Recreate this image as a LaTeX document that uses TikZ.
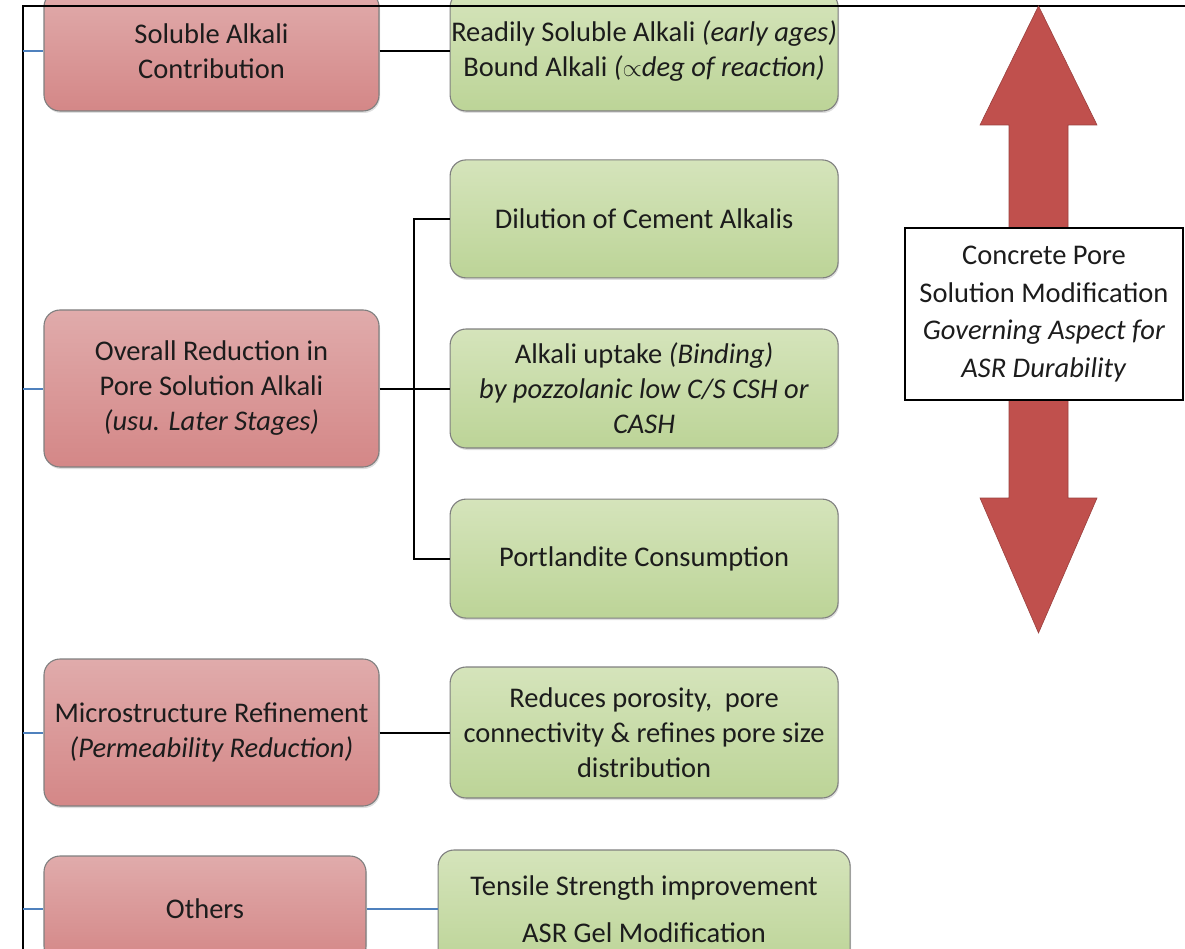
\documentclass[tikz,border=0pt]{standalone}
\usepackage{fontspec}
\setmainfont{Carlito}
\usetikzlibrary{positioning,shadows}

\definecolor{redtop}{HTML}{E0ABAB}
\definecolor{redbot}{HTML}{D48787}
\definecolor{greentop}{HTML}{D5E4BB}
\definecolor{greenbot}{HTML}{BCD497}
\definecolor{boxline}{HTML}{7F7F7F}
\definecolor{arrowred}{HTML}{C0504D}
\definecolor{linkblue}{HTML}{4F81BD}
\definecolor{inktext}{HTML}{1C1C1C}

\begin{document}
\begin{tikzpicture}[x=1pt,y=-1pt,
	font=\fontsize{28.5}{35}\selectfont,text=inktext,
	basebox/.style={rounded corners=16pt,draw=boxline,line width=1.1pt,align=center,inner sep=0pt,
		drop shadow={opacity=0.25,shadow xshift=1pt,shadow yshift=-2pt}},
	redbox/.style={basebox,top color=redtop,bottom color=redbot,minimum width=335pt},
	greenbox/.style={basebox,top color=greentop,bottom color=greenbot,minimum width=388pt},
	link/.style={line width=2pt,black},
	bluelink/.style={line width=2pt,linkblue},
	notebox/.style={draw=black,fill=white,line width=1.6pt,align=center,inner sep=0pt,
		minimum width=278pt,minimum height=172pt,font=\fontsize{28.5}{37.5}\selectfont}]
	\useasboundingbox (0,0) rectangle (1185,949);
	\clip (0,0) rectangle (1185,949);

	% left side
	\node[redbox,minimum height=120pt]							(soluble)	at (211.5,51)	{Soluble Alkali\\Contribution};
	\node[redbox,minimum height=157pt]							(overall)	at (211.5,388.5)	{Overall Reduction in\\Pore Solution Alkali\\\textit{(usu. Later Stages)}};
	\node[redbox,minimum height=147pt]							(micro)		at (211.5,732.5)	{Microstructure Refinement\\\textit{(Permeability Reduction)}};
	\node[redbox,minimum height=106pt,minimum width=322pt]		(others)	at (205,909)	{Others};

	% right side
	\node[greenbox,minimum height=120pt,right=70pt of soluble]	(readily)	{Readily Soluble Alkali \textit{(early ages)}\\Bound Alkali \textit{($\propto$deg of reaction)}};
	\node[greenbox,minimum height=119pt,right=70pt of overall]	(uptake)	{Alkali uptake \textit{(Binding)}\\\textit{by pozzolanic low C/S CSH or}\\\textit{CASH}};
	\node[greenbox,minimum height=118pt,above=50pt of uptake]	(dilution)	{Dilution of Cement Alkalis};
	\node[greenbox,minimum height=119pt,below=50pt of uptake]	(portl)		{Portlandite Consumption};
	\node[greenbox,minimum height=131pt,right=70pt of micro]	(reduces)	{Reduces porosity,\ \ pore\\connectivity \& refines pore size\\distribution};
	\node[greenbox,minimum height=118pt,minimum width=412pt,right=71pt of others]	(tensile)	{Tensile Strength improvement\\[12pt]ASR Gel Modification};

	% frame
	\coordinate (framebl) at (23,960);
	\coordinate (frametl) at (23,6);
	\coordinate (frametr) at (1190,6);
	\draw[line width=2.4pt] (framebl) -- (frametl) -- (frametr);

	\draw[bluelink] (frametl |- soluble.west) -- (soluble.west);
	\draw[bluelink] (frametl |- overall.west) -- (overall.west);
	\draw[bluelink] (frametl |- micro.west) -- (micro.west);
	\draw[bluelink] (frametl |- others.west) -- (others.west);

	\draw[link] (soluble.east) -- (readily.west);
	\coordinate[right=34pt of overall.east] (fork);
	\draw[link] (overall.east) -- (uptake.west);
	\draw[link] (dilution.west) -- (dilution.west -| fork) -- (portl.west -| fork) -- (portl.west);
	\draw[link] (micro.east) -- (reduces.west);
	\draw[bluelink] (others.east) -- (tensile.west);

	% double arrow
	\fill[arrowred,draw=arrowred!80!black,line width=0.6pt]
		(1038.5,6) -- (1097,125) -- (1068,125) -- (1068,498) -- (1097,498) -- (1038.5,633)
		-- (980,498) -- (1009,498) -- (1009,125) -- (980,125) -- cycle;
	\node[notebox] (aspect) at (1044,314) {Concrete Pore\\Solution Modification\\\textit{Governing Aspect for}\\\textit{ASR Durability}};
\end{tikzpicture}
\end{document}
